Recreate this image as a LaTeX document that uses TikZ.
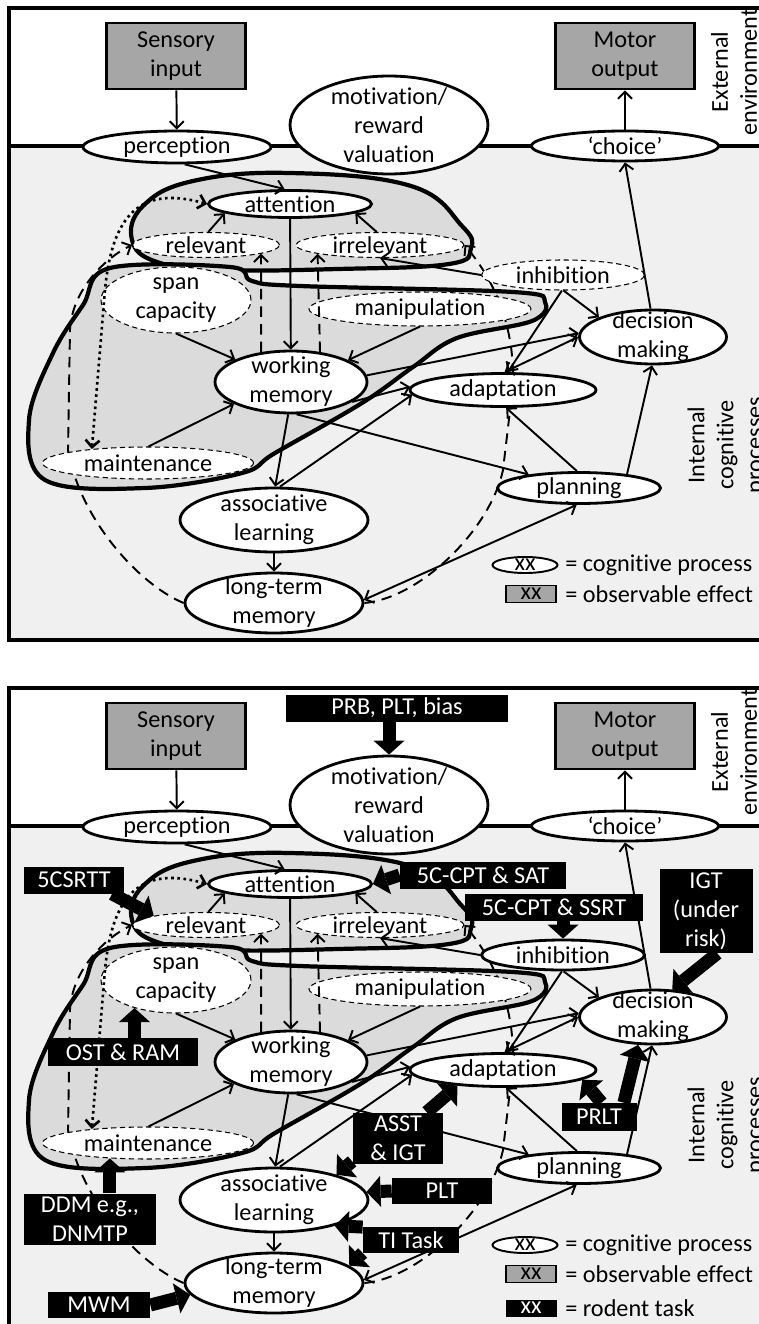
\documentclass[tikz,border=0pt]{standalone}
\usepackage{fontspec}
\setmainfont{Carlito}[Ligatures={TeX,NoCommon}]
\usetikzlibrary{arrows.meta,shapes.geometric}
\pgfdeclarelayer{bg}
\pgfsetlayers{bg,main}

\begin{document}
\begin{tikzpicture}[
  x=0.02cm,y=-0.02cm,
  font=\fontsize{13.8pt}{16.5pt}\selectfont,
  proc/.style={ellipse,draw,line width=1.6pt,fill=white,inner sep=0pt},
  subproc/.style={ellipse,draw,line width=0.6pt,dash pattern=on 3pt off 2pt,fill=white,inner sep=0pt},
  effect/.style={rectangle,draw,line width=1.6pt,fill=gray!70,align=center,inner sep=0pt},
  task/.style={rectangle,fill=black,text=white,align=center,inner sep=0pt},
  every label/.style={align=center,inner sep=0pt},
  arr/.style={line width=1.1pt,-{Straight Barb[length=4pt,width=8pt]}},
  arrr/.style={line width=1.1pt,{Straight Barb[length=4pt,width=8pt]}-{Straight Barb[length=4pt,width=8pt]}},
  fb/.style={line width=1.1pt,dash pattern=on 6pt off 4pt},
  loopline/.style={line width=2.4pt,fill=gray!28},
  bigarr/.style={line width=0.26cm,-{Triangle[length=0.28cm,width=0.62cm,line width=0pt]}},
  frame/.style={line width=1.8pt}
]
  \useasboundingbox (0,0) rectangle (758,1324);
  \clip (0,0) rectangle (758,1324);
  \begin{pgfonlayer}{bg}
    \fill[white] (0,0) rectangle (758,1324);
  \end{pgfonlayer}

  \foreach \p/\dy/\yb/\inhst in {t/0/640/subproc,b/680/650/proc}{
  \begin{scope}[shift={(0,\dy)}]
    \begin{pgfonlayer}{bg}
      \fill[gray!12] (9,146) rectangle (780,\yb);
      \draw[frame] (9,8) rectangle (780,\yb);
      \draw[frame] (9,146) -- (780,146);
      % attention loop
      \filldraw[loopline] plot[smooth cycle,tension=0.7] coordinates {(290,173) (411,186) (462,226) (471,248) (449,264) (338,269) (220,270) (157,262) (132,240) (143,206) (193,181)};
      % working memory loop
      \filldraw[loopline] plot[smooth cycle,tension=0.6] coordinates {(110,268) (230,267) (252,281) (300,286) (513,292) (545,302) (532,321) (457,338) (413,367) (362,403) (275,453) (242,473) (145,488) (45,480) (29,420) (53,353) (83,305)};
    \end{pgfonlayer}

    \node[effect,minimum width=2.78cm,minimum height=1.32cm] (\p sens) at (176,56) {Sensory\\input};
    \node[effect,minimum width=2.78cm,minimum height=1.32cm] (\p motor) at (625,56) {Motor\\output};
    \node[proc,minimum width=3.76cm,minimum height=0.64cm,label=center:perception] (\p perc) at (177,147) {};
    \node[proc,minimum width=3.96cm,minimum height=1.96cm,label={center:motivation/\\reward\\valuation}] (\p motiv) at (389,125) {};
    \node[proc,minimum width=3.74cm,minimum height=0.6cm,label={center:‘choice’}] (\p choice) at (625,146) {};
    \node[proc,minimum width=3.26cm,minimum height=0.54cm,label=center:attention] (\p att) at (290,204) {};
    \node[subproc,minimum width=2.94cm,minimum height=0.5cm,label=center:relevant] (\p rel) at (206,245) {};
    \node[subproc,minimum width=3.36cm,minimum height=0.5cm,label=center:irrelevant] (\p irr) at (380,245) {};
    \node[\inhst,minimum width=3.26cm,minimum height=0.6cm,label=center:inhibition] (\p inh) at (563,275) {};
    \node[subproc,minimum width=3cm,minimum height=1.32cm,label={center:span\\capacity}] (\p span) at (176,300) {};
    \node[subproc,minimum width=4.44cm,minimum height=0.68cm,label=center:manipulation] (\p manip) at (420,309) {};
    \node[proc,minimum width=2.94cm,minimum height=1.08cm,label={center:decision\\making}] (\p dm) at (653,337) {};
    \node[proc,minimum width=3.04cm,minimum height=1.24cm,label={center:working\\memory}] (\p wm) at (291,382) {};
    \node[proc,minimum width=3.72cm,minimum height=0.66cm,label=center:adaptation] (\p adapt) at (503,390) {};
    \node[subproc,minimum width=4.22cm,minimum height=0.64cm,label=center:maintenance] (\p maint) at (148,463) {};
    \node[proc,minimum width=3.26cm,minimum height=0.62cm,label=center:planning] (\p plan) at (579,488) {};
    \node[proc,minimum width=3.76cm,minimum height=1.28cm,label={center:associative\\learning}] (\p al) at (274,520) {};
    \node[proc,minimum width=3.56cm,minimum height=1.2cm,label={center:long-term\\memory}] (\p ltm) at (274,603) {};

    \node[rotate=90,align=center,inner sep=0pt] (\p ext) at (734,72) {External\\environment};
    \node[rotate=90,align=center,inner sep=0pt] (\p int) at (727,445) {Internal\\cognitive\\processes};

    % key
    \node[proc,line width=1.1pt,minimum width=1.3cm,minimum height=0.32cm,label=center:xx] (\p keyproc) at (525,565) {};
    \node[anchor=west,inner sep=0pt] (\p keyproctxt) at (565,565) {= cognitive process};
    \node[effect,line width=1.1pt,minimum width=1cm,minimum height=0.34cm] (\p keyeff) at (531,594) {xx};
    \node[anchor=west,inner sep=0pt] (\p keyefftxt) at (565,594) {= observable effect};

    \begin{pgfonlayer}{bg}
      \draw[fb,-{Straight Barb[length=4pt,width=8pt]}] (\p ltm.west) .. controls (140,585) and (80,520) .. (68,450) -- (70,330) .. controls (72,290) and (105,258) .. (\p rel.west);
      \draw[fb,-{Straight Barb[length=4pt,width=8pt]}] (\p ltm.east) .. controls (420,598) and (490,530) .. (503,470) -- (513,385) .. controls (515,320) and (490,275) .. (\p irr.east);
    \end{pgfonlayer}
    \draw[fb,-{Straight Barb[length=4pt,width=8pt]}] (\p wm.135) -- (\p rel.-9);
    \draw[fb,-{Straight Barb[length=4pt,width=8pt]}] (\p wm.46) -- (\p irr.188);
    \draw[line width=1.5pt,dotted,{Straight Barb[length=4pt,width=8pt]}-{Straight Barb[length=4pt,width=8pt]}] (\p att.west) .. controls (140,185) and (112,215) .. (105,290) -- (\p maint.166);

    \draw[arr] (\p sens) -- (\p perc);
    \draw[arr] (\p choice) -- (\p motor);
    \draw[arr] (\p perc.-66) -- (\p att.110);
    \draw[arr] (\p dm.95) -- (\p choice.south);
    \draw[arr] (\p att) -- (\p wm);
    \draw[arr] (\p rel.80) -- (\p att.188);
    \draw[arr] (\p irr.104) -- (\p att.-8);
    \draw[arr] (\p inh.west) -- (\p irr.-90);
    \draw[arr] (\p span.-90) -- (\p wm.158);
    \draw[arr] (\p manip.-90) -- (\p wm.21);
    \draw[arr] (\p maint.88) -- (\p wm.201);
    \draw[arr] (\p wm.5) -- (\p dm.177);
    \draw[arr] (\p wm.-18) -- (\p adapt.178);
    \draw[arr] (\p wm.-80) -- (\p plan.165);
    \draw[arr] (\p wm.-95) -- (\p al.88);
    \draw[arr] (\p al.80) -- (\p adapt.183);
    \draw[arr] (\p al) -- (\p ltm);
    \draw[arrr] (\p ltm.2) -- (\p plan.-98);
    \draw[arr] (\p plan.97) -- (\p adapt.-80);
    \draw[arr] (\p plan.16) -- (\p dm.-92);
    \draw[arr] (\p inh.-88) -- (\p dm.160);
    \draw[arr] (\p inh.-94) -- (\p adapt.75);
    \draw[arrr] (\p adapt.85) -- (\p dm.180);
  \end{scope}
  }

  % rodent tasks
  \node[task,minimum width=4.44cm,minimum height=0.54cm] (prb) at (397,708) {PRB, PLT, bias};
  \node[task,minimum width=2.02cm,minimum height=0.54cm] (csrtt) at (74,880) {5CSRTT};
  \node[task,minimum width=3.32cm,minimum height=0.54cm] (sat) at (483,875) {5C-CPT \& SAT};
  \node[task,minimum width=3.58cm,minimum height=0.54cm] (ssrt) at (554,907) {5C-CPT \& SSRT};
  \node[task,minimum width=1.86cm,minimum height=1.68cm] (igt) at (706,911) {IGT\\(under\\risk)};
  \node[task,minimum width=3cm,minimum height=0.56cm] (ostram) at (123,1052) {OST \& RAM};
  \node[task,minimum width=2.66cm,minimum height=1.02cm] (ddm) at (90,1219) {DDM e.g.,\\DNMTP};
  \node[task,minimum width=2.04cm,minimum height=0.52cm] (mwm) at (99,1305) {MWM};
  \node[task,minimum width=1.82cm,minimum height=1.02cm] (asst) at (398,1138) {ASST\\\& IGT};
  \node[task,minimum width=2cm,minimum height=0.52cm] (plt) at (442,1191) {PLT};
  \node[task,minimum width=1.92cm,minimum height=0.52cm] (ti) at (411,1240) {TI Task};
  \node[task,minimum width=1.5cm,minimum height=0.56cm] (prlt) at (599,1117) {PRLT};

  \draw[bigarr] (prb.south -| bmotiv.north) -- (bmotiv.north);
  \draw[bigarr] (csrtt.-20) -- (brel.170);
  \draw[bigarr] (sat.west) -- (batt.east);
  \draw[bigarr] (ssrt.south -| binh.north) -- (binh.north);
  \draw[bigarr] (igt.-75) -- (bdm.55);
  \draw[bigarr] (ostram.north -| bspan.-146) -- (bspan.-146);
  \draw[bigarr] (ddm.north -| bmaint.-158) -- (bmaint.-158);
  \draw[bigarr] (mwm.east) -- (bltm.-172);
  \draw[bigarr] (asst.42) -- (badapt.-161);
  \draw[bigarr] (asst.207) -- (bal.22);
  \draw[bigarr] (plt.west) -- (bal.5);
  \draw[bigarr] (ti.165) -- (bal.-23);
  \draw[bigarr] (ti.195) -- (bltm.13);
  \draw[bigarr] (prlt.80) -- (badapt.-7);
  \draw[bigarr] (prlt.30) -- (bdm.-118);

  \node[task,minimum width=1.02cm,minimum height=0.34cm] (keytask) at (531,1308) {xx};
  \node[anchor=west,inner sep=0pt] (keytasktxt) at (565,1308) {= rodent task};
\end{tikzpicture}
\end{document}
